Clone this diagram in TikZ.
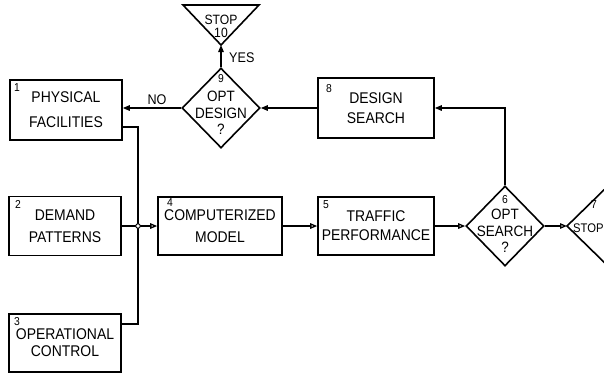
\documentclass[tikz,border=0pt]{standalone}
\usepackage{fontspec}
\setmainfont{Liberation Sans}[FakeStretch=0.9]
\usetikzlibrary{shapes.geometric,arrows.meta}
\begin{document}
\begin{tikzpicture}[x=1pt,y=-1pt,
  box/.style={draw,line width=1.6pt,inner sep=0pt,align=center},
  num/.style={inner sep=0pt,font=\fontsize{11.5}{11.5}\selectfont},
  dia/.style={draw,diamond,line width=1.6pt,inner sep=0pt,minimum width=78pt,minimum height=80pt},
  dtext/.style={inner sep=0pt,align=center,font=\fontsize{15}{16.5}\selectfont},
  lbl/.style={inner sep=0pt,font=\fontsize{14}{14}\selectfont},
  conn/.style={line width=1.3pt},
  arr/.style={conn,-{Triangle[length=7pt,width=5.5pt]}},
  oarr/.style={conn,-{Triangle[open,length=7pt,width=5.5pt]}}]
\useasboundingbox (0,0) rectangle (604,373);
\clip (0,0) rectangle (604,373);
% boxes
\node[box,minimum width=112pt,minimum height=60pt,font=\fontsize{15.5}{25}\selectfont] (b1) at (66,110) {PHYSICAL\\FACILITIES};
\node[box,minimum width=116pt,minimum height=60pt,font=\fontsize{15.5}{20}\selectfont] (b8) at (376,108) {DESIGN\\SEARCH};
\node[box,minimum width=112pt,minimum height=59pt,font=\fontsize{15.5}{22}\selectfont] (b2) at (65,226) {DEMAND\\PATTERNS};
\node[box,minimum width=112pt,minimum height=58pt,font=\fontsize{15.5}{17}\selectfont] (b3) at (65,343) {OPERATIONAL\\CONTROL};
\node[box,minimum width=124pt,minimum height=58pt,font=\fontsize{15.5}{22}\selectfont] (b4) at (220,226) {COMPUTERIZED\\MODEL};
\node[box,minimum width=116pt,minimum height=58pt,font=\fontsize{15.5}{19}\selectfont] (b5) at (376,226) {TRAFFIC\\PERFORMANCE};
% numbers
\node[num] (n1) at (17,88) {1};
\node[num] (n8) at (329,89) {8};
\node[num] (n2) at (18,204) {2};
\node[num] (n3) at (17,322) {3};
\node[num] (n4) at (170,203) {4};
\node[num] (n5) at (326,205) {5};
% diamonds
\node[dia] (d9) at (221,108) {};
\node[num] (n9) at (221,79) {9};
\node[dtext] (t9) at (221,113) {OPT\\DESIGN\\?};
\node[dia] (d6) at (505,226) {};
\node[num] (n6) at (505,200) {6};
\node[dtext] (t6) at (505,231) {OPT\\SEARCH\\?};
% stop 10
\draw[line width=1.6pt,line join=miter] (183,5) -- (259,5) -- (221,45) -- cycle;
\coordinate (s10) at (221,45);
\node[inner sep=0pt,font=\fontsize{13.5}{13.5}\selectfont] (t10a) at (221,20) {STOP};
\node[inner sep=0pt,font=\fontsize{13.5}{13.5}\selectfont] (t10b) at (221,33) {10};
% stop 7
\draw[line width=1.6pt] (610,184) -- (567,226) -- (610,268);
\coordinate (s7) at (567,226);
\node[num] (n7) at (594,205) {7};
\node[inner sep=0pt,anchor=west,font=\fontsize{12.5}{12.5}\selectfont] (t7) at (573,228) {STOP};
% connectors
\draw[arr] (d9.north) -- (s10);
\node[lbl,anchor=west] (yes) at (229,58) {YES};
\draw[arr] (d9.west) -- (d9.west -| b1.east);
\node[lbl] (no) at (157,100) {NO};
\draw[arr] (b8.west) -- (d9.east);
\draw[arr] (d6.north) |- (b8.east);
\coordinate (j) at (138,226);
\draw[conn] ([yshift=-17pt]b1.east) -| (j);
\draw[conn] (j) |- ([yshift=19pt]b3.east);
\draw[conn] (b2.east) -- (j);
\draw[oarr] (j) -- (b4.west);
\node[circle,draw,line width=0.9pt,fill=white,inner sep=0pt,minimum size=4.5pt] (jc) at (j) {};
\draw[oarr] (b4.east) -- (b5.west);
\draw[oarr] (b5.east) -- (d6.west);
\draw[oarr] (d6.east) -- (s7);
\end{tikzpicture}
\end{document}
